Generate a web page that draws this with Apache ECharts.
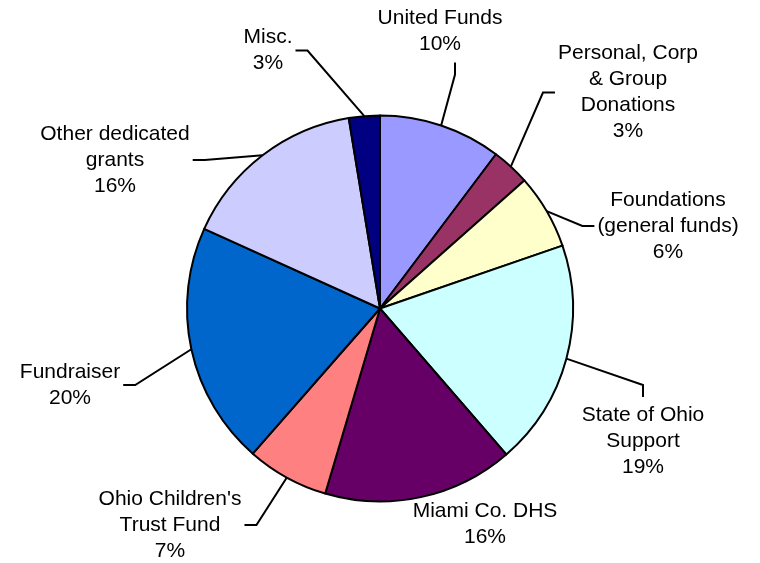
<!DOCTYPE html>
<html>
<head>
<meta charset="utf-8">
<script src="https://cdn.jsdelivr.net/npm/echarts@6/dist/echarts.min.js"></script>
<style>
  html, body { margin: 0; padding: 0; background: #fff; }
  #chart { width: 760px; height: 563px; }
</style>
</head>
<body>
<div id="chart"></div>
<script>
// funding sources, clockwise from 12 o'clock
const sources = [
    'United Funds',
    'Personal, Corp\n& Group\nDonations',
    'Foundations\n(general funds)',
    'State of Ohio\nSupport',
    'Miami Co. DHS',
    "Ohio Children's\nTrust Fund",
    'Fundraiser',
    'Other dedicated\ngrants',
    'Misc.'
];
const shares = [10.3, 3.2, 6.3, 19.0, 16.0, 6.9, 20.4, 15.7, 2.6];
const sliceColors = ['#9999FF', '#993366', '#FFFFCC', '#CCFFFF', '#660066', '#FF8080', '#0066CC', '#CCCCFF', '#000080'];

// where each label block sits and which side its leader line meets
const labelCenter = [
    [440, 31.5], [628, 92.5], [668, 226], [643, 441], [485, 524],
    [170, 525], [70, 385], [115, 160], [268, 50.5]
];
const labelSide = ['b', 'l', 'l', 't', null, 'r', 'r', 'r', 'r'];
const ELBOW = 12;
const GAP = 3;

const chart = echarts.init(document.getElementById('chart'), null, {renderer: 'canvas'});

const data = sources.map((name, i) => ({
    name: name,
    value: shares[i],
    itemStyle: {color: sliceColors[i]},
    labelLine: {show: labelSide[i] !== null}
}));

chart.setOption({
    animation: false,
    series: [{
        type: 'pie',
        center: [380, 308.5],
        radius: 193,
        startAngle: 90,
        clockwise: true,
        avoidLabelOverlap: false,
        percentPrecision: 0,
        itemStyle: {borderColor: '#000', borderWidth: 2},
        emphasis: {disabled: true},
        label: {
            show: true,
            position: 'outside',
            formatter: '{b}\n{d}%',
            fontFamily: '"Liberation Sans", Arial, sans-serif',
            fontSize: 21,
            lineHeight: 26,
            color: '#000'
        },
        labelLine: {
            show: true,
            length: 10,
            length2: 10,
            lineStyle: {color: '#000', width: 2}
        },
        labelLayout: function (params) {
            const i = params.dataIndex;
            const cx = labelCenter[i][0];
            const cy = labelCenter[i][1];
            const w = params.labelRect.width;
            const h = params.labelRect.height;
            const out = {x: cx, y: cy, align: 'center', verticalAlign: 'middle'};
            const pts = params.labelLinePoints;
            const side = labelSide[i];
            if (pts && side) {
                let end, elbow;
                if (side === 'r') {
                    end = [cx + w / 2 + GAP, cy];
                    elbow = [end[0] + ELBOW, cy];
                } else if (side === 'l') {
                    end = [cx - w / 2 - GAP, cy];
                    elbow = [end[0] - ELBOW, cy];
                } else if (side === 'b') {
                    end = [cx + 15, cy + h / 2 + 5];
                    elbow = [end[0], end[1] + ELBOW];
                } else {
                    end = [cx, cy - h / 2 - 5];
                    elbow = [cx, end[1] - ELBOW];
                }
                out.labelLinePoints = [pts[0], elbow, end];
            }
            return out;
        },
        data: data
    }]
});
</script>
</body>
</html>
